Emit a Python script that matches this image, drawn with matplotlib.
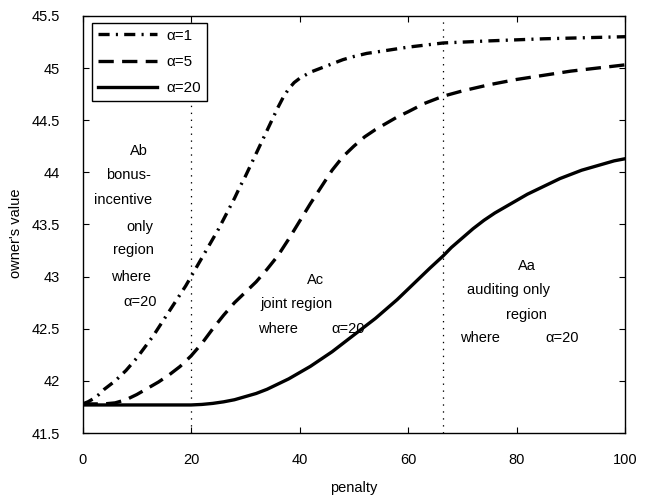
import matplotlib
matplotlib.use('Agg')
import matplotlib.pyplot as plt

plt.rcParams['font.family'] = ['Liberation Sans', 'DejaVu Sans']
plt.rcParams['lines.scale_dashes'] = False

# curves
x_a1 = [0, 1, 2, 3, 4, 5, 6, 7, 8, 9, 10, 11, 12, 13, 14, 15, 16, 17, 18, 19, 20,
        21, 22, 23, 24, 25, 26, 27, 28, 29, 30, 31, 32, 33, 34, 35, 36, 37, 38, 39, 40,
        41, 42, 44, 46, 48, 50, 52.4, 55, 60, 66.5, 75, 85, 100]
y_a1 = [41.78, 41.8, 41.83, 41.87, 41.92, 41.96, 42.0, 42.05, 42.1, 42.16, 42.22,
        42.29, 42.36, 42.43, 42.51, 42.59, 42.67, 42.75, 42.83, 42.91, 43.0,
        43.09, 43.18, 43.27, 43.36, 43.45, 43.55, 43.65, 43.75, 43.86, 43.96,
        44.07, 44.18, 44.29, 44.4, 44.51, 44.62, 44.72, 44.8, 44.86, 44.9,
        44.93, 44.96, 45.0, 45.04, 45.08, 45.11, 45.14, 45.16, 45.2, 45.24, 45.26, 45.28, 45.3]

x_a5 = [0, 4, 6, 8, 10, 12, 14, 16, 18, 20, 22, 24, 26, 28, 30, 32, 34, 36, 38, 40,
        42, 44, 46, 48, 50, 52, 54, 56, 58, 60, 63, 66.5, 70, 75, 80, 85, 90, 95, 100]
y_a5 = [41.78, 41.78, 41.79, 41.82, 41.87, 41.93, 41.99, 42.06, 42.14, 42.24,
        42.36, 42.5, 42.63, 42.75, 42.85, 42.95, 43.07, 43.2, 43.36, 43.53,
        43.7, 43.86, 44.02, 44.15, 44.25, 44.34, 44.41, 44.47, 44.53, 44.58,
        44.66, 44.73, 44.78, 44.84, 44.89, 44.93, 44.97, 45.0, 45.03]

x_a20 = [0, 20, 22, 24, 26, 28, 30, 32, 34, 36, 38, 40, 42, 44, 46, 48, 50, 52, 54,
         56, 58, 60, 62, 64, 66.5, 68, 70, 72, 74, 76, 78, 80, 82, 84, 86, 88, 90,
         92, 94, 96, 98, 100]
y_a20 = [41.77, 41.77, 41.775, 41.785, 41.8, 41.82, 41.85, 41.88, 41.92, 41.97,
         42.02, 42.08, 42.14, 42.21, 42.28, 42.36, 42.44, 42.52, 42.6, 42.69,
         42.78, 42.88, 42.98, 43.08, 43.2, 43.28, 43.37, 43.46, 43.54, 43.61,
         43.67, 43.73, 43.79, 43.84, 43.89, 43.94, 43.98, 44.02, 44.05, 44.08,
         44.11, 44.13]

region_bounds = [20, 66.5]

xticks = [0, 20, 40, 60, 80, 100]
yticks = [41.5, 42, 42.5, 43, 43.5, 44, 44.5, 45, 45.5]
ytick_labels = ['41.5', '42', '42.5', '43', '43.5', '44', '44.5', '45', '45.5']

fig = plt.figure(figsize=(6.45, 4.95), dpi=100)
ax = fig.add_axes([0.128, 0.125, 0.841, 0.843])

ax.plot(x_a1, y_a1, color='black', lw=2.4, linestyle=(0, (8, 4.5, 1.5, 4.5)), label='α=1')
ax.plot(x_a5, y_a5, color='black', lw=2.4, linestyle=(0, (11, 6)), label='α=5')
ax.plot(x_a20, y_a20, color='black', lw=2.4, label='α=20')

for xb in region_bounds:
    ax.axvline(xb, color='black', lw=0.9, linestyle=(0, (1, 4)))

# region annotations
txt = dict(fontsize=10.5, ha='center', va='center')
ab_lines = ['Ab', 'bonus-', 'incentive', 'only', 'region', 'where', 'α=20']
ab_x = [10.3, 8.4, 7.5, 10.6, 9.3, 9.0, 10.6]
ab_y = [44.2, 43.97, 43.73, 43.48, 43.26, 43.0, 42.76]
for s, xx, yy in zip(ab_lines, ab_x, ab_y):
    ax.text(xx, yy, s, **txt)

ac_lines = ['Ac', 'joint region', 'where', 'α=20']
ac_x = [42.9, 39.5, 36.1, 49.0]
ac_y = [42.97, 42.74, 42.5, 42.5]
for s, xx, yy in zip(ac_lines, ac_x, ac_y):
    ax.text(xx, yy, s, **txt)

aa_lines = ['Aa', 'auditing only', 'region', 'where', 'α=20']
aa_x = [81.9, 78.5, 81.9, 73.3, 88.4]
aa_y = [43.1, 42.87, 42.63, 42.41, 42.41]
for s, xx, yy in zip(aa_lines, aa_x, aa_y):
    ax.text(xx, yy, s, **txt)

ax.set_xlim(0, 100)
ax.set_ylim(41.5, 45.5)
ax.set_xticks(xticks)
ax.set_yticks(yticks)
ax.set_yticklabels(ytick_labels)
ax.tick_params(direction='in', length=4, width=0.8, top=True, right=True, labelsize=10.5)
ax.tick_params(axis='y', pad=16)
ax.tick_params(axis='x', pad=14)
for sp in ax.spines.values():
    sp.set_linewidth(1.0)

ax.set_xlabel('penalty', fontsize=10.5)
ax.set_ylabel("owner's value", fontsize=10.5)
ax.xaxis.set_label_coords(0.5, -0.115)
ax.yaxis.set_label_coords(-0.11, 0.48)

leg = ax.legend(loc='upper left', bbox_to_anchor=(0.017, 0.984), borderaxespad=0,
                fontsize=11, handlelength=3.9, handletextpad=0.6, labelspacing=0.8,
                fancybox=False, framealpha=1, edgecolor='black')
leg.get_frame().set_linewidth(1.0)

fig.savefig('out.png', dpi=100)
